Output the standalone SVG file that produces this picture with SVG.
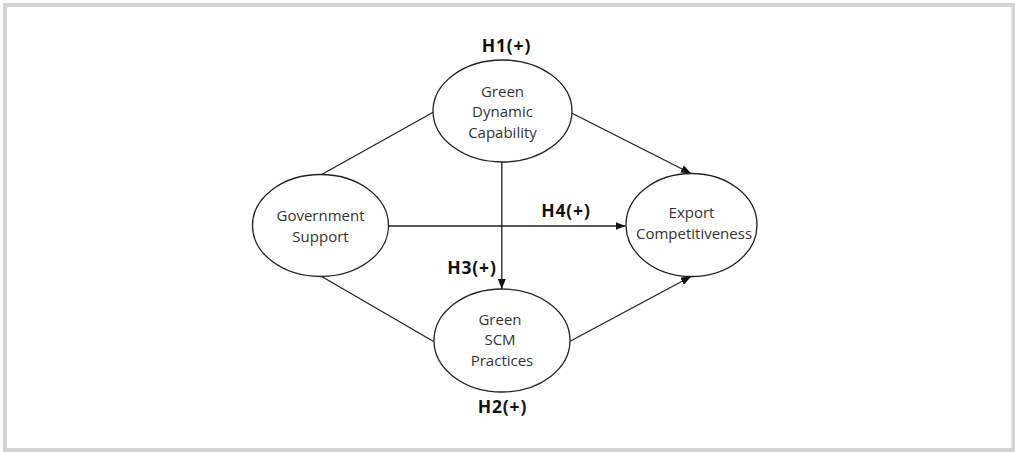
<svg xmlns="http://www.w3.org/2000/svg" width="1015" height="452" viewBox="0 0 1015 452">
<defs>
<style>
.node{fill:#fff;stroke:#222;stroke-width:1.3}
.lbl{font-family:"Open Sans","Noto Sans",sans-serif;font-size:15px;fill:#333;text-anchor:middle}
.hyp{font-family:"Open Sans","Noto Sans",sans-serif;font-size:17.5px;font-weight:bold;fill:#111;text-anchor:middle;letter-spacing:0.8px}
.conn{stroke:#222;stroke-width:1.3;fill:none}
</style>
<marker id="arr" viewBox="0 0 10 8" refX="10" refY="4" markerWidth="10" markerHeight="8" markerUnits="userSpaceOnUse" orient="auto">
<path d="M0,0 L10,4 L0,8 z" fill="#111"/>
</marker>
</defs>
<rect x="5" y="5" width="1008.5" height="445" fill="#fff" stroke="#d3d3d3" stroke-width="4"/>
<g id="connectors">
<line class="conn" x1="321.7" y1="174.5" x2="433.6" y2="112"/>
<line class="conn" x1="321.7" y1="276.5" x2="433.6" y2="341.5"/>
<line class="conn" x1="569.6" y1="112" x2="691" y2="173.5" marker-end="url(#arr)"/>
<line class="conn" x1="569.6" y1="341.5" x2="691" y2="276.5" marker-end="url(#arr)"/>
<line class="conn" x1="388.5" y1="226" x2="625.5" y2="226" marker-end="url(#arr)"/>
<line class="conn" x1="501.8" y1="162" x2="501.8" y2="289" marker-end="url(#arr)"/>
</g>
<g id="gdc">
<ellipse class="node" cx="502.5" cy="111" rx="69.5" ry="51"/>
<text class="lbl" x="502.5" y="96.5">Green</text>
<text class="lbl" x="502.5" y="117">Dynamic</text>
<text class="lbl" x="502.5" y="137.5">Capability</text>
</g>
<g id="gov">
<ellipse class="node" cx="320.5" cy="225.5" rx="68" ry="51"/>
<text class="lbl" x="320.5" y="221">Government</text>
<text class="lbl" x="320.5" y="241.5">Support</text>
</g>
<g id="export">
<ellipse class="node" cx="691.5" cy="225" rx="65.5" ry="51.5"/>
<text class="lbl" x="691.5" y="218">Export</text>
<text class="lbl" x="694" y="238.5">Competitiveness</text>
</g>
<g id="gscm">
<ellipse class="node" cx="502" cy="340.5" rx="68" ry="51.5"/>
<text class="lbl" x="500" y="324.5">Green</text>
<text class="lbl" x="500" y="345">SCM</text>
<text class="lbl" x="502" y="365.5">Practices</text>
</g>
<g id="labels">
<text class="hyp" x="506.5" y="52">H1(+)</text>
<text class="hyp" x="502.5" y="413">H2(+)</text>
<text class="hyp" x="472" y="274">H3(+)</text>
<text class="hyp" x="566" y="217">H4(+)</text>
</g>
</svg>
